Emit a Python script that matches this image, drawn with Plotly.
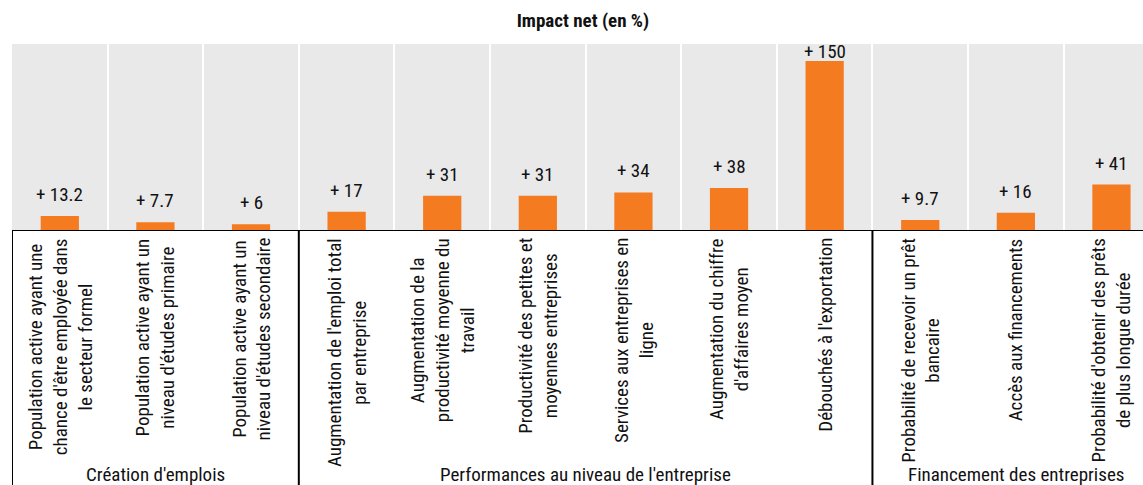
import plotly.graph_objects as go

categories = [
    "Population active ayant une<br>chance d'être employée dans<br>le secteur formel",
    "Population active ayant un<br>niveau d'études primaire",
    "Population active ayant un<br>niveau d'études secondaire",
    "Augmentation de l'emploi total<br>par entreprise",
    "Augmentation de la<br>productivité moyenne du<br>travail",
    "Productivité des petites et<br>moyennes entreprises",
    "Services aux entreprises en<br>ligne",
    "Augmentation du chiffre<br>d'affaires moyen",
    "Débouchés à l'exportation",
    "Probabilité de recevoir un prêt<br>bancaire",
    "Accès aux financements",
    "Probabilité d'obtenir des prêts<br>de plus longue durée",
]
values = [13.2, 7.7, 6, 17, 31, 31, 34, 38, 150, 9.7, 16, 41]
value_labels = ["+ 13.2", "+ 7.7", "+ 6", "+ 17", "+ 31", "+ 31", "+ 34", "+ 38",
                "+ 150", "+ 9.7", "+ 16", "+ 41"]
groups = ["Création d'emplois", "Performances au niveau de l'entreprise",
          "Financement des entreprises"]
group_sizes = [3, 6, 3]
title = "Impact net (en %)"

FONT = "Liberation Sans Narrow, Arial Narrow, Roboto Condensed, Liberation Sans, sans-serif"
ORANGE = "#F47B20"
BG = "#E9E9E9"
TXT = "#111111"
FS = 19
Y_MAX = 165
W, H = 1143, 485
ML, MT, MB = 12, 44, 254
plot_h = H - MT - MB

x = list(range(len(values)))

fig = go.Figure()
fig.add_trace(go.Bar(x=x, y=values, width=0.4, marker=dict(color=ORANGE, line=dict(width=0)),
                     hoverinfo="skip", showlegend=False))

ann = []
for xi, v, lab in zip(x, values, value_labels):
    ann.append(dict(x=xi, y=min(v + 19, Y_MAX - 7), xref="x", yref="y", text=lab,
                    showarrow=False, yanchor="middle", xanchor="center",
                    font=dict(family=FONT, size=FS, color=TXT)))
for xi, c in zip(x, categories):
    ann.append(dict(x=xi, y=0, xref="x", yref="y", text=c, showarrow=False,
                    textangle=-90, xanchor="center", yanchor="top", yshift=-5,
                    align="center", font=dict(family=FONT, size=FS, color=TXT)))

shapes = []
bottom = -(MB + 5) / plot_h
start = 0
bounds = [-0.5]
for g, n in zip(groups, group_sizes):
    center = start + (n - 1) / 2
    ann.append(dict(x=center, y=0, xref="x", yref="y", text=g, showarrow=False,
                    xanchor="center", yanchor="middle", yshift=-243,
                    font=dict(family=FONT, size=FS, color=TXT)))
    start += n
    bounds.append(start - 0.5)
for b in bounds[:-1]:
    shapes.append(dict(type="line", xref="x", yref="paper", x0=b, x1=b, y0=0, y1=bottom,
                       line=dict(color="black", width=2)))
shapes.append(dict(type="line", xref="x", yref="y", x0=-0.5, x1=len(values), y0=0, y1=0,
                   line=dict(color="black", width=2)))

fig.update_layout(
    width=W, height=H,
    margin=dict(l=ML, r=0, t=MT, b=MB),
    paper_bgcolor="white", plot_bgcolor=BG,
    title=dict(text="<b>" + title + "</b>", x=0.51, xanchor="center", y=1 - 20 / H,
               yanchor="middle", font=dict(family=FONT, size=FS, color=TXT)),
    xaxis=dict(range=[-0.5, 11.33], tickvals=[i + 0.5 for i in range(len(values) - 1)],
               showticklabels=False, ticks="", showgrid=True, gridcolor="white", gridwidth=2,
               zeroline=False, showline=False, fixedrange=True),
    yaxis=dict(range=[0, Y_MAX], showgrid=False, zeroline=False, showticklabels=False,
               ticks="", showline=False, fixedrange=True),
    annotations=ann, shapes=shapes, bargap=0.6,
)

fig.write_html("out.html", config={"displayModeBar": False},
               post_script="document.body.style.margin='0';document.body.style.overflow='hidden';")
